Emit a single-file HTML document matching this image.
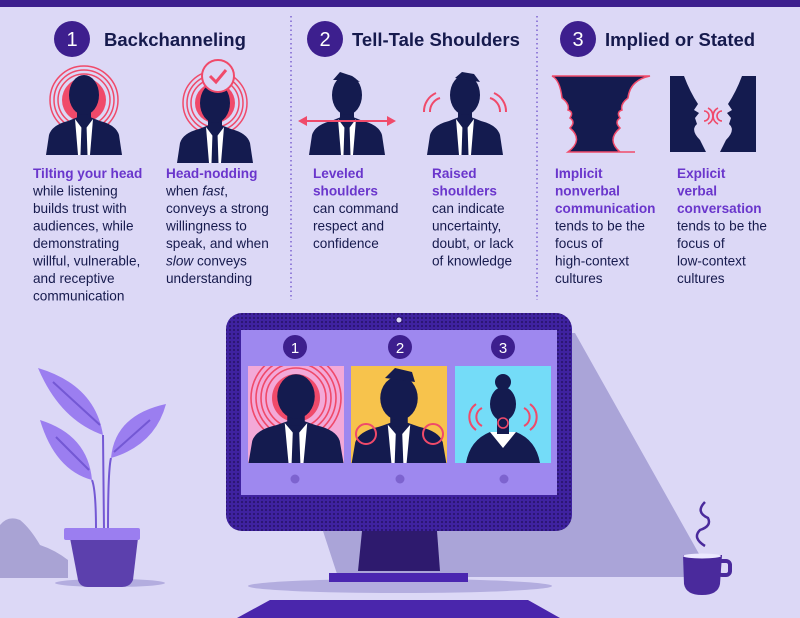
<!DOCTYPE html>
<html><head><meta charset="utf-8"><style>
html,body{margin:0;padding:0;background:#dcd8f6;}
svg{display:block;font-family:"Liberation Sans",sans-serif;}
.t{font-size:13.6px;fill:#161a4d;}
.b{font-weight:bold;fill:#6a36cc;}
.h{font-size:18.5px;font-weight:bold;fill:#161a4d;}
.n{font-size:20px;fill:#fff;text-anchor:middle;}
</style></head><body>
<svg width="800" height="618" viewBox="0 0 800 618">
<defs>
<pattern id="dots" width="4" height="4" patternUnits="userSpaceOnUse"><rect width="4" height="4" fill="#3f22a0"/><circle cx="2" cy="2" r="1.1" fill="#2a1470"/></pattern>
<g id="man">
<path d="M-38,82 L-35,62 Q-32,52 -16,48 L-6,44 L6,44 L16,48 Q32,52 35,62 L38,82 Z" fill="#141b4f"/>
<rect x="-7" y="34" width="14" height="14" fill="#141b4f"/>
<ellipse cx="0" cy="22" rx="15" ry="20" fill="#141b4f"/>
<path d="M-9,46 L0,58 L9,46 L6,82 L-6,82 Z" fill="#fff"/>
<path d="M-2.5,52 L2.5,52 L3.5,82 L-3.5,82 Z" fill="#141b4f"/>
</g>
</defs>
<rect width="800" height="618" fill="#dcd8f6"/>
<rect width="800" height="7" fill="#3d1f8e"/>
<!-- dividers -->
<line x1="291" y1="16" x2="291" y2="300" stroke="#7d63d0" stroke-width="1.5" stroke-dasharray="1.5,3"/>
<line x1="537" y1="16" x2="537" y2="300" stroke="#7d63d0" stroke-width="1.5" stroke-dasharray="1.5,3"/>
<!-- headings -->
<circle cx="72" cy="39" r="18" fill="#3d1f8e"/><text class="n" x="72" y="46">1</text>
<text class="h" x="104" y="46">Backchanneling</text>
<circle cx="325" cy="39" r="18" fill="#3d1f8e"/><text class="n" x="325" y="46">2</text>
<text class="h" x="352" y="46">Tell-Tale Shoulders</text>
<circle cx="578" cy="39" r="18" fill="#3d1f8e"/><text class="n" x="578" y="46">3</text>
<text class="h" x="605" y="46">Implied or Stated</text>
<!-- col1 icon -->
<g fill="none" stroke="#f04a6a" stroke-width="1.5"><circle cx="84" cy="100" r="26"/><circle cx="84" cy="100" r="30"/><circle cx="84" cy="100" r="34"/></g>
<circle cx="84" cy="100" r="22" fill="#f04a6a"/>
<use href="#man" x="84" y="73"/>
<!-- col2 icon -->
<g fill="none" stroke="#f04a6a" stroke-width="1.5"><circle cx="215" cy="103" r="24"/><circle cx="215" cy="103" r="28"/><circle cx="215" cy="103" r="32"/></g>
<circle cx="215" cy="103" r="20" fill="#f04a6a"/>
<use href="#man" x="215" y="81"/>
<circle cx="218" cy="76" r="16" fill="#dcd8f6" stroke="#f04a6a" stroke-width="2"/>
<path d="M210,76 L216,82 L226,70" fill="none" stroke="#f04a6a" stroke-width="3"/>
<!-- col3 icon -->
<use href="#man" x="347" y="73"/>
<path d="M333,80 L340,72 L352,76 L360,82 L350,80 Z" fill="#141b4f"/>
<line x1="302" y1="121" x2="392" y2="121" stroke="#f04a6a" stroke-width="2"/>
<path d="M298,121 L307,116 L307,126 Z M396,121 L387,116 L387,126 Z" fill="#f04a6a"/>
<!-- col4 icon -->
<use href="#man" x="465" y="73" />
<path d="M455,78 L462,72 L474,74 L480,82 Z" fill="#141b4f"/>
<g fill="none" stroke="#f04a6a" stroke-width="2"><path d="M430,112 A14,14 0 0 1 440,98"/><path d="M424,112 A20,20 0 0 1 436,93"/><path d="M500,112 A14,14 0 0 0 490,98"/><path d="M506,112 A20,20 0 0 0 494,93"/></g>
<!-- col5 vase -->
<path d="M552,76 L650,76 Q630,80 628,98 Q620,104 622,110 Q616,112 620,118 Q614,122 620,128 Q606,140 620,152 L635,152 L568,152 Q584,140 570,128 Q576,122 570,118 Q574,112 568,110 Q570,104 562,98 Q560,80 552,76 Z" fill="#141b4f" stroke="#f04a6a" stroke-width="1.5"/>
<!-- col6 faces -->
<path d="M670,76 L684,76 Q690,92 698,104 L694,110 L699,113 L695,118 L697,124 Q690,130 700,140 Q704,148 706,152 L670,152 Z" fill="#141b4f"/>
<path d="M756,76 L742,76 Q736,92 728,104 L732,110 L727,113 L731,118 L729,124 Q736,130 726,140 Q722,148 720,152 L756,152 Z" fill="#141b4f"/>
<g fill="none" stroke="#f04a6a" stroke-width="1.6"><path d="M704,111 A5,5 0 0 1 704,121"/><path d="M708,108 A9,9 0 0 1 708,124"/><path d="M722,111 A5,5 0 0 0 722,121"/><path d="M718,108 A9,9 0 0 0 718,124"/></g>
<!-- texts -->
<text class="t" x="33" y="178"><tspan class="b">Tilting your head</tspan><tspan x="33" dy="17.5">while listening</tspan><tspan x="33" dy="17.5">builds trust with</tspan><tspan x="33" dy="17.5">audiences, while</tspan><tspan x="33" dy="17.5">demonstrating</tspan><tspan x="33" dy="17.5">willful, vulnerable,</tspan><tspan x="33" dy="17.5">and receptive</tspan><tspan x="33" dy="17.5">communication</tspan></text>
<text class="t" x="166" y="178"><tspan class="b">Head-nodding</tspan><tspan x="166" dy="17.5">when <tspan font-style="italic">fast</tspan>,</tspan><tspan x="166" dy="17.5">conveys a strong</tspan><tspan x="166" dy="17.5">willingness to</tspan><tspan x="166" dy="17.5">speak, and when</tspan><tspan x="166" dy="17.5"><tspan font-style="italic">slow</tspan> conveys</tspan><tspan x="166" dy="17.5">understanding</tspan></text>
<text class="t" x="313" y="178"><tspan class="b">Leveled</tspan><tspan class="b" x="313" dy="17.5">shoulders</tspan><tspan x="313" dy="17.5">can command</tspan><tspan x="313" dy="17.5">respect and</tspan><tspan x="313" dy="17.5">confidence</tspan></text>
<text class="t" x="432" y="178"><tspan class="b">Raised</tspan><tspan class="b" x="432" dy="17.5">shoulders</tspan><tspan x="432" dy="17.5">can indicate</tspan><tspan x="432" dy="17.5">uncertainty,</tspan><tspan x="432" dy="17.5">doubt, or lack</tspan><tspan x="432" dy="17.5">of knowledge</tspan></text>
<text class="t" x="555" y="178"><tspan class="b">Implicit</tspan><tspan class="b" x="555" dy="17.5">nonverbal</tspan><tspan class="b" x="555" dy="17.5">communication</tspan><tspan x="555" dy="17.5">tends to be the</tspan><tspan x="555" dy="17.5">focus of</tspan><tspan x="555" dy="17.5">high-context</tspan><tspan x="555" dy="17.5">cultures</tspan></text>
<text class="t" x="677" y="178"><tspan class="b">Explicit</tspan><tspan class="b" x="677" dy="17.5">verbal</tspan><tspan class="b" x="677" dy="17.5">conversation</tspan><tspan x="677" dy="17.5">tends to be the</tspan><tspan x="677" dy="17.5">focus of</tspan><tspan x="677" dy="17.5">low-context</tspan><tspan x="677" dy="17.5">cultures</tspan></text>
<!-- shadow -->
<path d="M560,333 L575,333 L712,577 L338,577 L322,528 L560,528 Z" fill="#aaa4d8"/>
<ellipse cx="400" cy="586" rx="152" ry="7" fill="#b3addf"/>
<!-- plant -->
<path d="M0,525 Q8,515 20,520 Q30,528 40,545 Q55,550 68,560 L68,578 L0,578 Z" fill="#a9a3d4"/>
<ellipse cx="110" cy="583" rx="55" ry="4" fill="#b3addf"/>
<g fill="#9b7ef0"><path d="M38,368 Q95,385 103,435 Q60,420 38,368 Z"/><path d="M40,420 Q88,435 92,480 Q55,470 40,420 Z"/><path d="M166,404 Q115,415 111,458 Q155,445 166,404 Z"/></g>
<g fill="none" stroke="#7458d4" stroke-width="2"><path d="M53,382 L100,425"/><path d="M56,437 L89,470"/><path d="M150,420 L114,452"/><path d="M103,435 L104,530 M92,480 Q96,490 96,530 M111,458 Q108,470 108,530"/></g>
<path d="M70,538 L138,538 L133,580 Q130,587 122,587 L88,587 Q80,587 78,580 Z" fill="#5c40ad"/>
<rect x="64" y="528" width="76" height="12" rx="2" fill="#9b7ef0"/>
<!-- monitor -->
<rect x="226" y="313" width="346" height="218" rx="16" fill="url(#dots)"/>
<rect x="241" y="330" width="316" height="165" fill="#9e88ef"/>
<circle cx="399" cy="320" r="3" fill="#dcd8f6" stroke="#2a1470"/>
<rect x="248" y="366" width="96" height="97" fill="#f3a9d8"/>
<rect x="351" y="366" width="96" height="97" fill="#f7c34c"/>
<rect x="455" y="366" width="96" height="97" fill="#74dcf8"/>
<clipPath id="c1"><rect x="248" y="366" width="96" height="97"/></clipPath>
<g clip-path="url(#c1)"><g fill="none" stroke="#f04a6a" stroke-width="1.6"><circle cx="296" cy="398" r="30"/><circle cx="296" cy="398" r="35"/><circle cx="296" cy="398" r="40"/><circle cx="296" cy="398" r="45"/></g><circle cx="296" cy="398" r="24" fill="#f04a6a"/><use href="#man" transform="translate(296,372) scale(1.25,1.11)"/></g>
<clipPath id="c2"><rect x="351" y="366" width="96" height="97"/></clipPath>
<g clip-path="url(#c2)"><use href="#man" transform="translate(399,374) scale(1.25,1.1)"/><path d="M385,378 L395,368 L412,372 L415,382 Z" fill="#141b4f"/><circle cx="366" cy="434" r="10" fill="none" stroke="#f04a6a" stroke-width="2"/><circle cx="433" cy="434" r="10" fill="none" stroke="#f04a6a" stroke-width="2"/></g>
<clipPath id="c3"><rect x="455" y="366" width="96" height="97"/></clipPath>
<g clip-path="url(#c3)"><path d="M466,463 Q470,440 490,432 L516,432 Q536,440 540,463 Z" fill="#141b4f"/><path d="M490,432 L503,448 L516,432 Z" fill="#fff"/><rect x="497" y="414" width="12" height="20" fill="#141b4f"/><ellipse cx="503" cy="404" rx="13" ry="17" fill="#141b4f"/><circle cx="503" cy="382" r="8" fill="#141b4f"/><circle cx="503" cy="423" r="5" fill="none" stroke="#f04a6a" stroke-width="1.6"/><g fill="none" stroke="#f04a6a" stroke-width="2"><path d="M482,408 A10,10 0 0 0 482,426"/><path d="M476,404 A16,16 0 0 0 476,430"/><path d="M524,408 A10,10 0 0 1 524,426"/><path d="M530,404 A16,16 0 0 1 530,430"/></g></g>
<circle cx="295" cy="347" r="12" fill="#3d1f8e"/><text x="295" y="353" fill="#fff" font-size="15" text-anchor="middle">1</text>
<circle cx="400" cy="347" r="12" fill="#3d1f8e"/><text x="400" y="353" fill="#fff" font-size="15" text-anchor="middle">2</text>
<circle cx="503" cy="347" r="12" fill="#3d1f8e"/><text x="503" y="353" fill="#fff" font-size="15" text-anchor="middle">3</text>
<g fill="#7d63cf"><circle cx="295" cy="479" r="4.5"/><circle cx="400" cy="479" r="4.5"/><circle cx="504" cy="479" r="4.5"/></g>
<path d="M362,531 L437,531 L440,571 L358,571 Z" fill="#2e1a6e"/>
<rect x="329" y="573" width="139" height="9" fill="#4a26b0"/>
<path d="M270,600 L528,600 L560,618 L237,618 Z" fill="#4a26ac"/>
<!-- cup -->
<path d="M683,555 L722,555 L720,584 Q718,595 702,595 Q686,595 684,584 Z" fill="#4a2a9c"/>
<rect x="718" y="561" width="12" height="14" rx="4" fill="none" stroke="#4a2a9c" stroke-width="4"/>
<ellipse cx="702" cy="556" rx="19" ry="2.5" fill="#ece9ff"/>
<path d="M705,502 Q695,512 708,518 Q712,526 700,530 Q692,538 705,546" fill="none" stroke="#4a2a9c" stroke-width="2.5"/>
</svg>
</body></html>
